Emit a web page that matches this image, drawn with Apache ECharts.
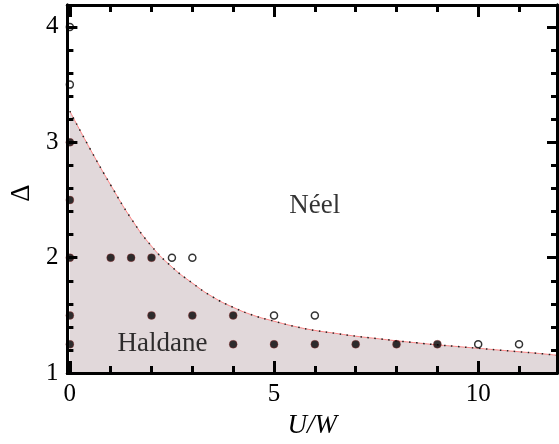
<!DOCTYPE html>
<html>
<head>
<meta charset="utf-8">
<script src="https://cdn.jsdelivr.net/npm/echarts@6/dist/echarts.min.js"></script>
<style>
  html, body { margin: 0; padding: 0; background: #fff; }
  #chart { width: 559px; height: 444px; }
</style>
</head>
<body>
<div id="chart"></div>
<script>
// Phase boundary between the Haldane and Néel phases
const boundaryX = [0, 0.5, 1, 1.5, 2, 2.5, 3, 3.5, 4, 4.5, 5, 5.5, 6, 6.5, 7, 7.5, 8, 8.5, 9, 9.5, 10, 10.5, 11, 11.5, 12];
const boundaryY = [3.27, 2.94, 2.63, 2.34, 2.10, 1.92, 1.78, 1.66, 1.57, 1.50, 1.45, 1.405, 1.37, 1.345, 1.32, 1.30, 1.28, 1.262, 1.245, 1.23, 1.215, 1.20, 1.185, 1.17, 1.152];

// Simulated points found in the Haldane phase (filled)
const haldaneX = [0, 0, 0, 0, 0, 1, 1.5, 2, 2, 3, 4, 4, 5, 6, 7, 8, 9];
const haldaneY = [3, 2.5, 2, 1.5, 1.25, 2, 2, 2, 1.5, 1.5, 1.5, 1.25, 1.25, 1.25, 1.25, 1.25, 1.25];

// Simulated points found in the Néel phase (open)
const neelX = [0, 0, 2.5, 3, 5, 6, 10, 11];
const neelY = [4, 3.5, 2, 2, 1.5, 1.5, 1.25, 1.25];

// Axis ticks
const xMajorTicks = [0, 5, 10];
const xMinorTicks = [1, 2, 3, 4, 6, 7, 8, 9, 11];
const yMajorTicks = [1, 2, 3, 4];
const yMinorTicks = [1.2, 1.4, 1.6, 1.8, 2.2, 2.4, 2.6, 2.8, 3.2, 3.4, 3.6, 3.8, 4.2];

// Phase names
const phaseNames = ['Néel', 'Haldane'];
const phaseX = [6.0, 2.27];
const phaseY = [2.45, 1.25];

const X_MIN = -0.06, X_MAX = 11.93, Y_MIN = 1, Y_MAX = 4.19;
const SERIF = '"Liberation Serif", "DejaVu Serif", serif';

const zip = (a, b) => a.map((v, i) => [v, b[i]]);

function xAxisDef(position, ticks, len, labels, extra) {
  return Object.assign({
    type: 'value', position: position, min: X_MIN, max: X_MAX,
    splitLine: { show: false }, z: 10,
    axisLine: { show: true, onZero: false, lineStyle: { color: '#000', width: 3 } },
    axisTick: { show: true, inside: true, length: len, customValues: ticks, lineStyle: { color: '#000', width: 3 } },
    axisLabel: labels ? { show: true, customValues: ticks, margin: 9, color: '#000', fontFamily: SERIF, fontSize: 25 } : { show: false }
  }, extra || {});
}

function yAxisDef(position, ticks, len, labels, extra) {
  return Object.assign({
    type: 'value', position: position, min: Y_MIN, max: Y_MAX,
    splitLine: { show: false }, z: 10,
    axisLine: { show: true, onZero: false, lineStyle: { color: '#000', width: 3 } },
    axisTick: { show: true, inside: true, length: len, customValues: ticks, lineStyle: { color: '#000', width: 3 } },
    axisLabel: labels ? { show: true, customValues: ticks, margin: 9, color: '#000', fontFamily: SERIF, fontSize: 25 } : { show: false }
  }, extra || {});
}

const chart = echarts.init(document.getElementById('chart'), null, { renderer: 'canvas' });

chart.setOption({
  animation: false,
  backgroundColor: '#fff',
  grid: { left: 65.5, right: 2, top: 5, bottom: 68.5, containLabel: false },
  xAxis: [
    xAxisDef('bottom', xMajorTicks, 12, true, {
      name: 'U/W', nameLocation: 'middle', nameGap: 37,
      nameTextStyle: { color: '#000', fontFamily: SERIF, fontSize: 27, fontStyle: 'italic' }
    }),
    xAxisDef('bottom', xMinorTicks, 7, false),
    xAxisDef('top', xMajorTicks, 12, false),
    xAxisDef('top', xMinorTicks, 7, false)
  ],
  yAxis: [
    yAxisDef('left', yMajorTicks, 10, true, {
      name: 'Δ', nameLocation: 'middle', nameGap: 32,
      nameTextStyle: { color: '#000', fontFamily: SERIF, fontSize: 27, padding: [0, 8, 0, 0] }
    }),
    yAxisDef('left', yMinorTicks, 6, false),
    yAxisDef('right', yMajorTicks, 10, false),
    yAxisDef('right', yMinorTicks, 6, false)
  ],
  series: [
    {
      // shaded Haldane region under the boundary
      type: 'line', data: zip(boundaryX, boundaryY),
      smooth: 0.5, showSymbol: false, symbol: 'none',
      lineStyle: { color: '#ff6a6a', width: 0.8 },
      areaStyle: { color: '#e1d8da', opacity: 1, origin: 'start' },
      z: 1
    },
    {
      // dotted boundary overlay
      type: 'line', data: zip(boundaryX, boundaryY),
      smooth: 0.5, showSymbol: false, symbol: 'none',
      lineStyle: { color: '#222', width: 1.5, type: [1.5, 5.5] },
      z: 2
    },
    {
      type: 'scatter', data: zip(haldaneX, haldaneY),
      symbol: 'circle', symbolSize: 8,
      itemStyle: { color: '#000', borderColor: '#b33', borderWidth: 0.4 },
      z: 3
    },
    {
      type: 'scatter', data: zip(neelX, neelY),
      symbol: 'circle', symbolSize: 7,
      itemStyle: { color: '#fff', borderColor: '#000', borderWidth: 1.5 },
      z: 3
    },
    {
      // phase names placed in data coordinates
      type: 'scatter',
      data: phaseNames.map((n, i) => ({ name: n, value: [phaseX[i], phaseY[i]] })),
      symbol: 'circle', symbolSize: 0.01,
      itemStyle: { color: 'rgba(0,0,0,0)' },
      label: {
        show: true, position: 'inside', formatter: p => p.name,
        color: '#000', fontFamily: SERIF, fontSize: 27
      },
      z: 4
    }
  ]
});
</script>
</body>
</html>
